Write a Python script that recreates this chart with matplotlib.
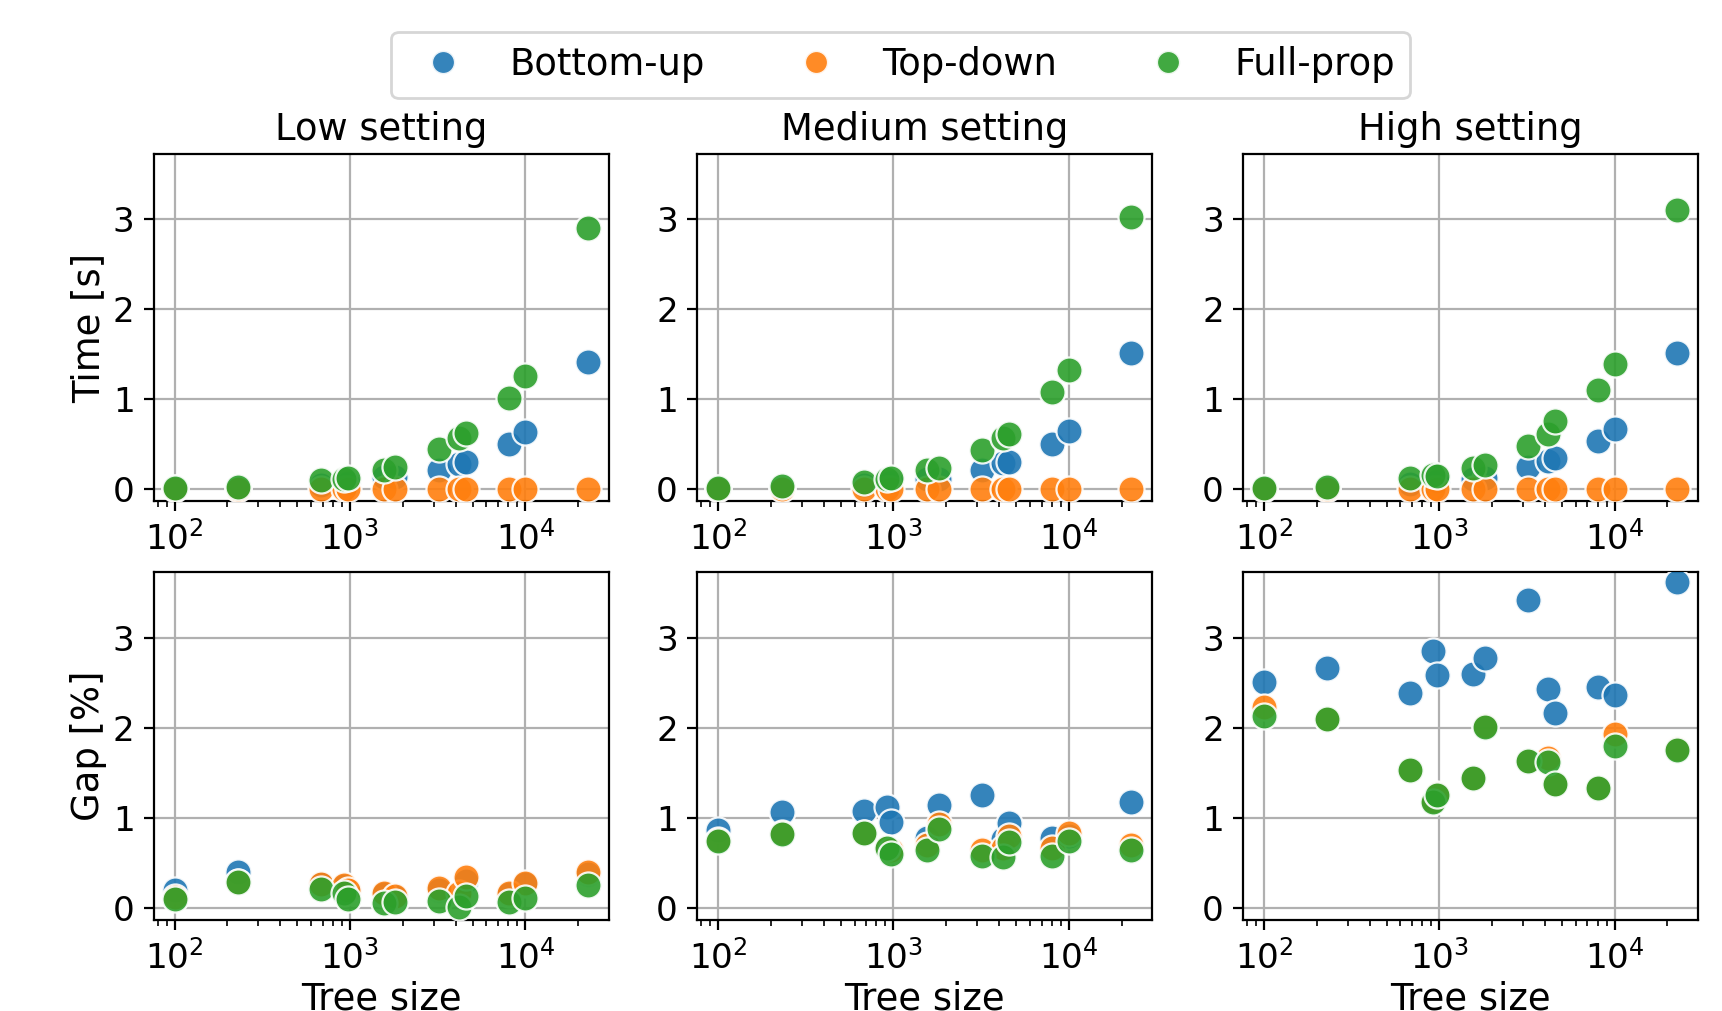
import matplotlib
matplotlib.use("Agg")
import matplotlib.pyplot as plt
from matplotlib.lines import Line2D

# -------------------- DATA --------------------
tree_sizes = [100, 230, 680, 925, 970, 1556, 1814, 3200, 4190, 4590, 8075, 10000, 22750]

methods = ["Bottom-up", "Top-down", "Full-prop"]
settings = ["Low setting", "Medium setting", "High setting"]

# time [s]
low_time_bu = [0.01, 0.02, 0.05, 0.06, 0.07, 0.14, 0.14, 0.21, 0.28, 0.30, 0.50, 0.64, 1.42]
low_time_td = [0.00, 0.00, 0.00, 0.00, 0.00, 0.00, 0.00, 0.00, 0.00, 0.00, 0.00, 0.00, 0.00]
low_time_fp = [0.01, 0.03, 0.10, 0.11, 0.13, 0.22, 0.25, 0.45, 0.57, 0.63, 1.01, 1.26, 2.90]

med_time_bu = [0.01, 0.02, 0.05, 0.07, 0.08, 0.115, 0.12, 0.21, 0.29, 0.30, 0.50, 0.65, 1.51]
med_time_td = [0.00, 0.00, 0.00, 0.00, 0.00, 0.00, 0.00, 0.00, 0.00, 0.00, 0.00, 0.00, 0.00]
med_time_fp = [0.01, 0.04, 0.085, 0.12, 0.13, 0.21, 0.235, 0.44, 0.57, 0.61, 1.085, 1.325, 3.03]

high_time_bu = [0.01, 0.02, 0.06, 0.08, 0.09, 0.115, 0.13, 0.25, 0.31, 0.35, 0.54, 0.675, 1.51]
high_time_td = [0.00, 0.00, 0.00, 0.00, 0.00, 0.00, 0.00, 0.00, 0.00, 0.00, 0.00, 0.00, 0.00]
high_time_fp = [0.02, 0.03, 0.13, 0.16, 0.15, 0.24, 0.27, 0.48, 0.61, 0.76, 1.10, 1.39, 3.10]

# gap [%]
low_gap_bu = [0.20, 0.40, 0.26, 0.24, 0.19, 0.15, 0.12, 0.20, 0.16, 0.30, 0.15, 0.26, 0.38]
low_gap_td = [0.12, 0.29, 0.27, 0.25, 0.20, 0.17, 0.13, 0.22, 0.17, 0.34, 0.17, 0.28, 0.40]
low_gap_fp = [0.10, 0.29, 0.21, 0.17, 0.10, 0.056, 0.063, 0.075, 0.015, 0.13, 0.063, 0.11, 0.25]

med_gap_bu = [0.87, 1.06, 1.08, 1.12, 0.955, 0.78, 1.14, 1.25, 0.77, 0.94, 0.78, 0.80, 1.18]
med_gap_td = [0.75, 0.83, 0.83, 0.67, 0.64, 0.70, 0.93, 0.645, 0.67, 0.80, 0.66, 0.83, 0.70]
med_gap_fp = [0.74, 0.825, 0.83, 0.66, 0.595, 0.64, 0.88, 0.58, 0.57, 0.73, 0.575, 0.74, 0.64]

high_gap_bu = [2.51, 2.665, 2.39, 2.86, 2.585, 2.60, 2.78, 3.42, 2.435, 2.17, 2.45, 2.365, 3.617]
high_gap_td = [2.23, 2.10, 1.53, 1.19, 1.26, 1.44, 2.02, 1.63, 1.67, 1.38, 1.33, 1.93, 1.76]
high_gap_fp = [2.13, 2.10, 1.53, 1.18, 1.25, 1.44, 2.015, 1.63, 1.625, 1.38, 1.33, 1.80, 1.755]

colors = ["#1f77b4", "#ff7f0e", "#2ca02c"]

time_rows = [
    [low_time_bu, low_time_td, low_time_fp],
    [med_time_bu, med_time_td, med_time_fp],
    [high_time_bu, high_time_td, high_time_fp],
]
gap_rows = [
    [low_gap_bu, low_gap_td, low_gap_fp],
    [med_gap_bu, med_gap_td, med_gap_fp],
    [high_gap_bu, high_gap_td, high_gap_fp],
]

# -------------------- PLOT --------------------
plt.rcParams["font.family"] = "DejaVu Sans"
plt.rcParams["font.size"] = 13.3

fig = plt.figure(figsize=(8.61, 5.055), dpi=200)

lefts = [0.0894, 0.405, 0.722]
width = 0.264
row_bottoms = [0.504, 0.090]
height = 0.344

for row, (data_rows, ylabel) in enumerate([(time_rows, "Time [s]"), (gap_rows, "Gap [%]")]):
    for col in range(3):
        ax = fig.add_axes([lefts[col], row_bottoms[row], width, height])
        for values, color in zip(data_rows[col], colors):
            ax.scatter(tree_sizes, values, s=88, color=color, alpha=0.9,
                       edgecolor="white", linewidth=0.8, zorder=3)
        ax.set_xscale("log")
        ax.set_ylim(-0.135, 3.73)
        ax.set_yticks([0, 1, 2, 3])
        ax.grid(True, color="#b0b0b0", linewidth=0.8)
        ax.set_axisbelow(True)
        ax.tick_params(labelsize=12.3)
        if row == 0:
            ax.set_title(settings[col], fontsize=13.3, pad=4.8)
        else:
            ax.set_xlabel("Tree size", fontsize=13.3, labelpad=2)
        if col == 0:
            ax.set_ylabel(ylabel, fontsize=13.3, labelpad=2)

handles = [Line2D([], [], marker="o", linestyle="", markersize=8.5,
                  markerfacecolor=c, markeredgecolor="white", alpha=0.9)
           for c in colors]
fig.legend(handles, methods, loc="upper center", ncol=3,
           bbox_to_anchor=(0.523, 0.987), fontsize=13.3)

fig.savefig("out.png", dpi=200)
